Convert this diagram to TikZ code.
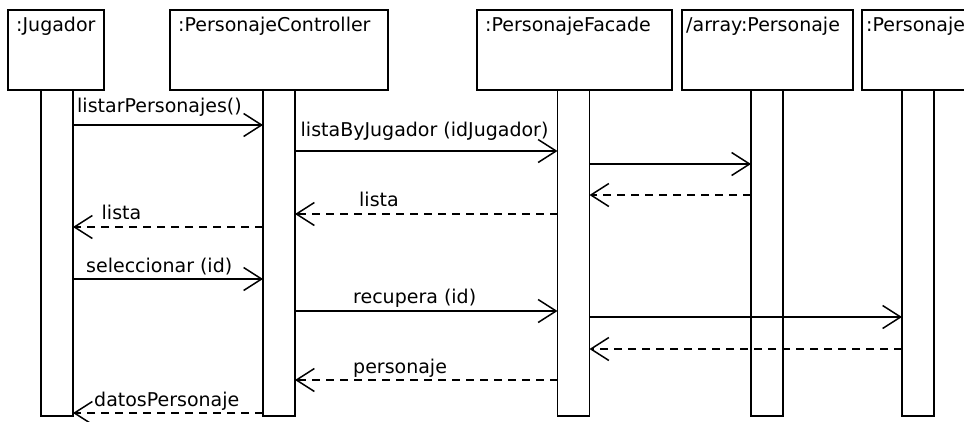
\documentclass[tikz,border=0pt]{standalone}
\usepackage{fontspec}
\setmainfont{DejaVu Sans}
\usetikzlibrary{arrows.meta}
\begin{document}
\begin{tikzpicture}[x=1pt,y=-1pt,
  every node/.style={font=\fontsize{19}{22}\selectfont},
  lifebox/.style={draw, line width=1.6pt, inner sep=0pt, outer sep=0pt,
    anchor=north west, minimum height=80pt},
  actbar/.style={draw, fill=white, line width=1.6pt, inner sep=0pt, outer sep=0pt,
    anchor=north west, minimum width=32pt, minimum height=326pt},
  boxtitle/.style={anchor=base west, inner sep=0pt},
  msg/.style={line width=1.5pt, -{Straight Barb[length=18pt,width=23pt]}},
  reply/.style={msg, dash pattern=on 8pt off 6pt},
  msglabel/.style={anchor=base west, inner sep=0pt}]
\useasboundingbox (0,0) rectangle (964,421);
\clip (0,0) rectangle (964,421);

% object boxes
\node[lifebox, minimum width=96pt]  (jbox) at (8,10) {};
\node[lifebox, minimum width=218pt] (cbox) at (170,10) {};
\node[lifebox, minimum width=195pt] (fbox) at (477,10) {};
\node[lifebox, minimum width=171pt] (abox) at (682,10) {};
\node[lifebox, minimum width=171pt] (pbox) at (862,10) {};

\node[boxtitle] (jtitle) at (16,31.5)  {:Jugador};
\node[boxtitle] (ctitle) at (178,31.5) {:PersonajeController};
\node[boxtitle] (ftitle) at (485,31.5) {:PersonajeFacade};
\node[boxtitle] (atitle) at (686,31.5) {/array:Personaje};
\node[boxtitle] (ptitle) at (866,31.5) {:Personaje};

% activation bars
\node[actbar] (jbar) at (41,90)    {};
\node[actbar] (cbar) at (263,90)   {};
\node[actbar] (fbar) at (557.5,90) {};
\node[actbar] (abar) at (751,90)   {};
\node[actbar] (pbar) at (902,90)   {};

% messages
\draw[msg]   (jbar.east |- 0,125) -- (cbar.west |- 0,125);
\draw[msg]   (cbar.east |- 0,151) -- (fbar.west |- 0,151);
\draw[msg]   (fbar.east |- 0,164) -- (abar.west |- 0,164);
\draw[reply] (abar.west |- 0,195) -- (fbar.east |- 0,195);
\draw[reply] (fbar.west |- 0,214) -- (cbar.east |- 0,214);
\draw[reply] (cbar.west |- 0,227) -- (jbar.east |- 0,227);
\draw[msg]   (jbar.east |- 0,279) -- (cbar.west |- 0,279);
\draw[msg]   (cbar.east |- 0,311) -- (fbar.west |- 0,311);
\draw[msg]   (fbar.east |- 0,317) -- (pbar.west |- 0,317);
\draw[reply] (pbar.west |- 0,349) -- (fbar.east |- 0,349);
\draw[reply] (fbar.west |- 0,380) -- (cbar.east |- 0,380);
\draw[reply] (cbar.west |- 0,413) -- (jbar.east |- 0,413);

% message labels
\node[msglabel] (l1) at (77,112)    {listarPersonajes()};
\node[msglabel] (l2) at (300.5,136) {listaByJugador (idJugador)};
\node[msglabel] (l5) at (359,206)   {lista};
\node[msglabel] (l6) at (101.5,219) {lista};
\node[msglabel] (l7) at (86,272)    {seleccionar (id)};
\node[msglabel] (l8) at (353,303)   {recupera (id)};
\node[msglabel] (l11) at (353,373)  {personaje};
\node[msglabel] (l12) at (94,406)   {datosPersonaje};
\end{tikzpicture}
\end{document}
